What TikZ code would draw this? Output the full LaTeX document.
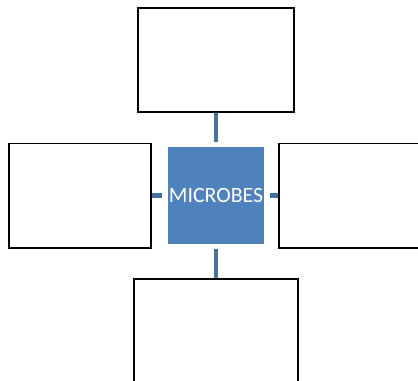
\documentclass[tikz,border=0pt]{standalone}
\usepackage{fontspec}
\newfontfamily\calibri{Carlito}
\usetikzlibrary{positioning}
\definecolor{boxblue}{RGB}{79,129,189}
\definecolor{linkblue}{RGB}{65,113,156}

\begin{document}
\begin{tikzpicture}[x=0.025cm,y=-0.025cm,
	emptybox/.style={draw=black, line width=1.4pt, fill=white, inner sep=0pt},
	centrebox/.style={draw=white, line width=1pt, fill=boxblue, text=white, inner sep=0pt,
		minimum width=2.45cm, minimum height=2.48cm, font=\calibri\fontsize{15.5}{18}\selectfont},
	link/.style={linkblue, line width=3.2pt}]
	\useasboundingbox (0,0) rectangle (418,380);
	\node [centrebox] (mic) at (216,195.5) {MICROBES};
	\node [emptybox, minimum width=3.875cm, minimum height=2.6cm] (top) at (216,60) {};
	\node [emptybox, minimum width=3.55cm, minimum height=2.6cm] (left) at (80,195.5) {};
	\node [emptybox, minimum width=3.875cm, minimum height=2.6cm] (right) at (356.5,195.5) {};
	\node [emptybox, minimum width=4.075cm, minimum height=2.65cm] (bottom) at (216,332) {};
	% links to the centre
	\draw [link, shorten >=0.08cm] (top.south) -- (mic.north);
	\draw [link, shorten >=0.08cm] (bottom.north) -- (mic.south);
	\draw [link, shorten >=0.1cm] (left.east) -- (mic.west);
	\draw [link, shorten >=0.1cm] (right.west) -- (mic.east);
\end{tikzpicture}
\end{document}
